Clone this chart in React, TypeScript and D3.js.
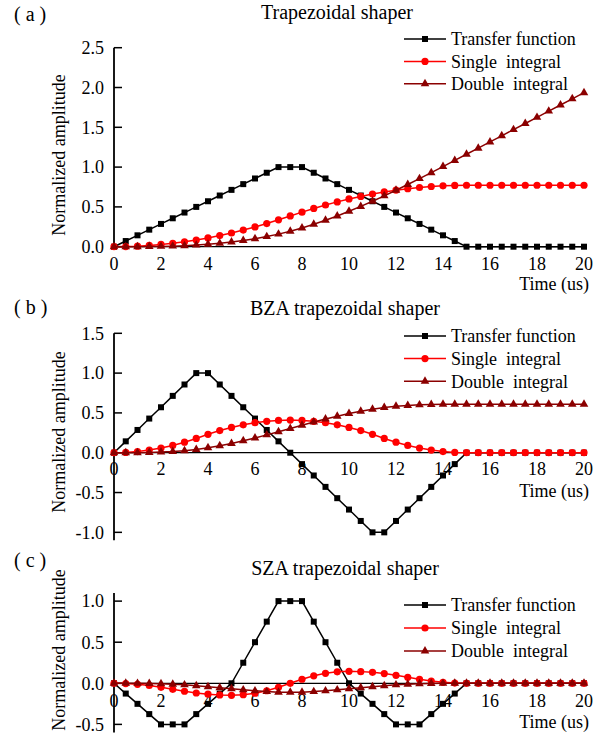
import React from 'react';
import * as d3 from 'd3';

const FONT = '"Liberation Serif", "Times New Roman", serif';

const time = [0, 0.5, 1, 1.5, 2, 2.5, 3, 3.5, 4, 4.5, 5, 5.5, 6, 6.5, 7, 7.5, 8, 8.5, 9, 9.5, 10,
  10.5, 11, 11.5, 12, 12.5, 13, 13.5, 14, 14.5, 15, 15.5, 16, 16.5, 17, 17.5, 18, 18.5, 19, 19.5, 20];

const xTicks = [0, 2, 4, 6, 8, 10, 12, 14, 16, 18, 20];
const legendNames = ['Transfer function', 'Single  integral', 'Double  integral'];
const seriesColors = ['#000000', '#ff0000', '#8b0000'];

// (a) trapezoidal shaper
const aTransfer = [0, .071, .143, .214, .286, .357, .429, .5, .571, .643, .714, .786, .857, .929, 1, 1, 1,
  .929, .857, .786, .714, .643, .571, .5, .429, .357, .286, .214, .143, .071, 0,
  0, 0, 0, 0, 0, 0, 0, 0, 0, 0];
const aSingle = [0, .002, .007, .016, .028, .043, .062, .084, .110, .140, .172, .209, .248, .291, .338, .386,
  .434, .481, .524, .563, .600, .632, .662, .688, .710, .729, .744, .756, .765, .770, .772,
  .772, .772, .772, .772, .772, .772, .772, .772, .772, .772];
const aDouble = [0, 0, .0005, .002, .004, .007, .012, .020, .030, .042, .058, .077, .100, .127, .158, .194,
  .235, .281, .332, .386, .445, .506, .571, .639, .709, .781, .855, .930, 1.007, 1.084, 1.161,
  1.238, 1.316, 1.393, 1.471, 1.548, 1.625, 1.703, 1.780, 1.858, 1.935];

// (b) BZA trapezoidal shaper
const bTransfer = [0, .143, .286, .429, .571, .714, .857, 1, 1, .857, .714, .571, .429, .286, .143, 0,
  -.143, -.286, -.429, -.571, -.714, -.857, -1, -1, -.857, -.714, -.571, -.429, -.286, -.143, 0,
  0, 0, 0, 0, 0, 0, 0, 0, 0, 0];
const bSingle = [0, .004, .015, .033, .059, .092, .132, .179, .231, .278, .318, .351, .377, .395, .406, .410,
  .406, .395, .377, .351, .318, .278, .231, .179, .132, .092, .059, .033, .015, .004, 0,
  0, 0, 0, 0, 0, 0, 0, 0, 0, 0];
const bDouble = [0, .0001, .001, .003, .008, .015, .026, .041, .062, .087, .117, .150, .186, .224, .264, .305,
  .345, .385, .423, .459, .492, .522, .547, .568, .583, .594, .601, .606, .608, .609, .609,
  .609, .609, .609, .609, .609, .609, .609, .609, .609, .609];

// (c) SZA trapezoidal shaper
const cTransfer = [0, -.125, -.25, -.375, -.5, -.5, -.5, -.375, -.25, -.125, 0, .25, .5, .75, 1, 1, 1,
  .75, .5, .25, 0, -.125, -.25, -.375, -.5, -.5, -.5, -.375, -.25, -.125, 0,
  0, 0, 0, 0, 0, 0, 0, 0, 0, 0];
const cSingle = [0, -.003, -.012, -.027, -.049, -.073, -.097, -.118, -.133, -.142, -.146, -.139, -.121, -.091,
  -.049, 0, .049, .091, .121, .139, .146, .142, .133, .118, .097, .073, .049, .027, .012, .003, 0,
  0, 0, 0, 0, 0, 0, 0, 0, 0, 0];
const cDouble = [0, -.0001, -.0007, -.0025, -.006, -.011, -.019, -.029, -.041, -.053, -.066, -.080, -.092,
  -.101, -.108, -.110, -.108, -.101, -.092, -.080, -.066, -.053, -.041, -.029, -.019, -.011, -.006,
  -.0025, -.0007, -.0001, 0, 0, 0, 0, 0, 0, 0, 0, 0, 0, 0];

const aTicks = [0, 0.5, 1, 1.5, 2, 2.5];
const bTicks = [-1, -0.5, 0, 0.5, 1, 1.5];
const cTicks = [-0.5, 0, 0.5, 1];

const triangle = d3.symbol().type(d3.symbolTriangle).size(32)();

function Marker({ kind, x, y, color }) {
  if (kind === 0) return <rect x={x - 3} y={y - 3} width={6} height={6} fill={color} />;
  if (kind === 1) return <circle cx={x} cy={y} r={3.6} fill={color} />;
  return <path d={triangle} transform={`translate(${x},${y})`} fill={color} />;
}

function Panel({ label, labelY, title, titleX, titleY, yDomain, yRange, yTicks, series,
  legendY, legendGap, tickLabelY, timeY, axisTitleY }) {
  const x = d3.scaleLinear().domain([0, 20]).range([114, 584]);
  const y = d3.scaleLinear().domain(yDomain).range(yRange);
  const line = d3.line<number>().x((d, i) => x(time[i])).y(d => y(d));

  return (
    <g fontFamily={FONT}>
      <text x={14} y={labelY} fontSize={20} style={{ whiteSpace: 'pre' }}>{`( ${label} )`}</text>
      <text x={titleX} y={titleY} fontSize={20} textAnchor="middle">{title}</text>
      <text transform={`translate(65,${axisTitleY}) rotate(-90)`} fontSize={18} textAnchor="middle">
        Normalized amplitude
      </text>

      <line x1={x(0)} x2={x(20)} y1={y(0)} y2={y(0)} stroke="#000" strokeWidth={1.2} />
      <line x1={x(0)} x2={x(0)} y1={y(yDomain[0])} y2={y(yDomain[1])} stroke="#000" strokeWidth={1.8} />
      {yTicks.map(t => (
        <g key={t}>
          <line x1={x(0)} x2={x(0) + 8} y1={y(t)} y2={y(t)} stroke="#000" strokeWidth={1.5} />
          <text x={104} y={y(t)} dy="0.35em" fontSize={18} textAnchor="end">{t.toFixed(1)}</text>
        </g>
      ))}
      {xTicks.map(t => (
        <text key={t} x={x(t)} y={tickLabelY} fontSize={18} textAnchor="middle">{t}</text>
      ))}
      <text x={589} y={timeY} fontSize={18} textAnchor="end">Time (us)</text>

      {series.map((vals, k) => (
        <g key={k}>
          <path d={line(vals)} fill="none" stroke={seriesColors[k]} strokeWidth={1.5} />
          {vals.map((v, i) => <Marker key={i} kind={k} x={x(time[i])} y={y(v)} color={seriesColors[k]} />)}
        </g>
      ))}

      {legendNames.map((name, k) => {
        const ly = legendY + k * legendGap;
        return (
          <g key={name}>
            <line x1={404} x2={446} y1={ly} y2={ly} stroke={seriesColors[k]} strokeWidth={1.5} />
            <Marker kind={k} x={425} y={ly} color={seriesColors[k]} />
            <text x={451} y={ly} dy="0.35em" fontSize={18} style={{ whiteSpace: 'pre' }}>{name}</text>
          </g>
        );
      })}
    </g>
  );
}

export default function App() {
  return (
    <svg width={616} height={740} style={{ position: 'absolute', left: 0, top: 0, background: '#fff' }}>
      <rect width={616} height={740} fill="#fff" />
      <Panel label="a" labelY={21} title="Trapezoidal shaper" titleX={337} titleY={19}
        yDomain={[0, 2.5]} yRange={[246.7, 47.7]} yTicks={aTicks}
        series={[aTransfer, aSingle, aDouble]} legendY={39} legendGap={22.4}
        tickLabelY={270} timeY={290} axisTitleY={155} />
      <Panel label="b" labelY={314} title="BZA trapezoidal shaper" titleX={345} titleY={315}
        yDomain={[-1.1, 1.5]} yRange={[540.3, 333.3]} yTicks={bTicks}
        series={[bTransfer, bSingle, bDouble]} legendY={336} legendGap={22.6}
        tickLabelY={475} timeY={497} axisTitleY={432} />
      <Panel label="c" labelY={567} title="SZA trapezoidal shaper" titleX={345} titleY={575}
        yDomain={[-0.6, 1.1]} yRange={[732.6, 592.9]} yTicks={cTicks}
        series={[cTransfer, cSingle, cDouble]} legendY={605} legendGap={23}
        tickLabelY={706.5} timeY={728} axisTitleY={650} />
    </svg>
  );
}
